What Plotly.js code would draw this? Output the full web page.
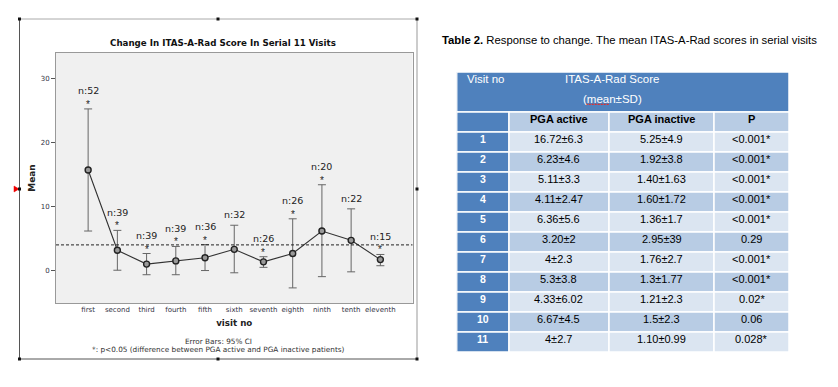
<!DOCTYPE html>
<html>
<head>
<meta charset="utf-8">
<script src="https://cdn.plot.ly/plotly-3.0.1.min.js"></script>
<style>html,body{margin:0;padding:0;background:#fff;}#chart{width:838px;height:387px;}</style>
</head>
<body>
<div id="chart"></div>
<script>
// ---- chart data ----
const visits = ['first','second','third','fourth','fifth','sixth','seventh','eighth','ninth','tenth','eleventh'];
const meanScore = [15.7, 3.2, 1.05, 1.55, 2.05, 3.35, 1.4, 2.7, 6.2, 4.75, 1.75];
const ciUpper   = [25.2, 6.3, 2.7, 3.8, 4.1, 7.1, 2.2, 8.1, 13.4, 9.65, 2.55];
const ciLower   = [6.2, 0.1, -0.6, -0.6, 0.05, -0.3, 0.55, -2.65, -0.9, -0.15, 0.8];
const nCounts   = [52, 39, 39, 39, 36, 32, 26, 26, 20, 22, 15];
const significant = [true, true, true, true, true, false, true, true, true, false, true];
const refLine = 4.04;
const yTicks = [0, 10, 20, 30];

// ---- table data ----
const visitNo    = ['1','2','3','4','5','6','7','8','9','10','11'];
const pgaActive  = ['16.72±6.3','6.23±4.6','5.11±3.3','4.11±2.47','6.36±5.6','3.20±2','4±2.3','5.3±3.8','4.33±6.02','6.67±4.5','4±2.7'];
const pgaInactive= ['5.25±4.9','1.92±3.8','1.40±1.63','1.60±1.72','1.36±1.7','2.95±39','1.76±2.7','1.3±1.77','1.21±2.3','1.5±2.3','1.10±0.99'];
const pValues    = ['<0.001*','<0.001*','<0.001*','<0.001*','<0.001*','0.29','<0.001*','<0.001*','0.02*','0.06','0.028*'];
const subHeader  = ['', 'PGA active', 'PGA inactive', 'P'];
const headerMain = ['Visit no', 'ITAS-A-Rad Score', '(mean±SD)'];
const colWidths  = [52.3, 100, 105, 75];

const W = 838, H = 387;
const px = x => x / W;
const py = y => 1 - y / H;
const AR = 'Liberation Sans, Arial, sans-serif';

const lineTrace = {
  type: 'scatter', mode: 'lines+markers',
  x: visits, y: meanScore,
  line: {color: '#333', width: 1.1},
  marker: {symbol: 'circle', size: 6, color: '#999', line: {width: 1.4, color: '#222'}},
  error_y: {
    type: 'data', symmetric: false,
    array: ciUpper.map((u, i) => u - meanScore[i]),
    arrayminus: ciLower.map((l, i) => meanScore[i] - l),
    color: '#666', thickness: 1, width: 4
  },
  xaxis: 'x', yaxis: 'y', hoverinfo: 'skip'
};

const annotations = [];
const shapes = [];

// ---- chart annotations ----
visits.forEach((v, i) => {
  if (significant[i]) {
    annotations.push({x: v, y: ciUpper[i], xref: 'x', yref: 'y', text: '*', showarrow: false,
      xanchor: 'center', yanchor: 'bottom', yshift: -3, font: {family: AR, size: 10, color: '#222'}});
    annotations.push({x: v, y: ciUpper[i], xref: 'x', yref: 'y', text: 'n:' + nCounts[i], showarrow: false,
      xanchor: 'center', yanchor: 'bottom', yshift: 10.5, font: {family: 'DejaVu Sans', size: 9.5, color: '#222'}});
  } else {
    annotations.push({x: v, y: ciUpper[i], xref: 'x', yref: 'y', text: 'n:' + nCounts[i], showarrow: false,
      xanchor: 'center', yanchor: 'bottom', yshift: 3, font: {family: 'DejaVu Sans', size: 9.5, color: '#222'}});
  }
});
annotations.push(
  {xref: 'paper', yref: 'paper', x: px(222.5), y: py(43), xanchor: 'center', yanchor: 'middle',
   text: '<b>Change In ITAS-A-Rad Score In Serial 11 Visits</b>',
   showarrow: false, font: {family: 'DejaVu Sans', size: 8.7, color: '#111'}},
  {xref: 'paper', yref: 'paper', x: px(218), y: py(341), xanchor: 'center', yanchor: 'middle',
   text: 'Error Bars: 95% CI', showarrow: false, font: {family: 'DejaVu Sans', size: 7.3, color: '#333'}},
  {xref: 'paper', yref: 'paper', x: px(218), y: py(349.5), xanchor: 'center', yanchor: 'middle',
   text: '*: p<0.05 (difference between PGA active and PGA inactive patients)',
   showarrow: false, font: {family: 'DejaVu Sans', size: 7.3, color: '#333'}},
  {xref: 'paper', yref: 'paper', x: px(440), y: py(40), xanchor: 'left', yanchor: 'middle',
   text: '<b>Table 2.</b> Response to change. The mean ITAS-A-Rad scores in serial visits',
   showarrow: false, font: {family: AR, size: 11.3, color: '#000'}}
);

// ---- chart shapes ----
shapes.push(
  {type: 'line', xref: 'x domain', yref: 'y', x0: 0, x1: 1, y0: refLine, y1: refLine,
   line: {color: '#222', width: 1, dash: '3px,2px'}},
  {type: 'line', xref: 'paper', yref: 'paper', x0: px(19.5), x1: px(19.5), y0: py(19), y1: py(359), line: {color: '#555', width: 1}},
  {type: 'line', xref: 'paper', yref: 'paper', x0: px(19.5), x1: px(417), y0: py(359), y1: py(359), line: {color: '#555', width: 1}},
  {type: 'line', xref: 'paper', yref: 'paper', x0: px(19.5), x1: px(417), y0: py(19), y1: py(19), line: {color: '#aaa', width: 1}},
  {type: 'line', xref: 'paper', yref: 'paper', x0: px(417), x1: px(417), y0: py(19), y1: py(359), line: {color: '#aaa', width: 1.2}},
  {type: 'path', xref: 'paper', yref: 'paper',
   path: `M ${px(14)} ${py(186)} L ${px(19)} ${py(189)} L ${px(14)} ${py(192)} Z`,
   fillcolor: '#e00', line: {color: '#e00', width: 0.5}}
);
[[19.5,19],[218,19],[417,19],[19.5,189],[417,189],[19.5,359],[218,359],[417,359]].forEach(([x, y]) => {
  shapes.push({type: 'rect', xref: 'paper', yref: 'paper', x0: px(x - 1.5), x1: px(x + 1.5), y0: py(y - 1.5), y1: py(y + 1.5),
    fillcolor: '#111', line: {width: 0}});
});

// ---- table (drawn on its own axes x2/y2: x in column units, y in row units) ----
const blue = '#4f81bd', darkRow = '#b8cce4', lightRow = '#dbe5f1';
const colEdges = [0];
colWidths.forEach(w => colEdges.push(colEdges[colEdges.length - 1] + w));
const totalW = colEdges[colEdges.length - 1];
const nRows = 2 + 1 + visitNo.length; // header (2 units) + subheader + data
const cellLine = {color: '#fff', width: 1.5};
shapes.push({type: 'rect', xref: 'x2', yref: 'y2', x0: 0, x1: totalW, y0: 0, y1: 2,
  fillcolor: blue, line: cellLine, layer: 'above'});
const bodyRows = [subHeader].concat(visitNo.map((v, i) => [v, pgaActive[i], pgaInactive[i], pValues[i]]));
bodyRows.forEach((row, r) => {
  const y0 = 2 + r, y1 = 3 + r;
  row.forEach((txt, c) => {
    let fill;
    if (c === 0) fill = blue;
    else if (r === 0) fill = darkRow;
    else fill = (r % 2 === 1) ? lightRow : darkRow;
    shapes.push({type: 'rect', xref: 'x2', yref: 'y2', x0: colEdges[c], x1: colEdges[c + 1], y0: y0, y1: y1,
      fillcolor: fill, line: cellLine, layer: 'above'});
    if (txt !== '') {
      const bold = (c === 0 || r === 0);
      annotations.push({xref: 'x2', yref: 'y2', x: (colEdges[c] + colEdges[c + 1]) / 2, y: y0 + 0.37,
        text: bold ? '<b>' + txt + '</b>' : txt, showarrow: false, xanchor: 'center', yanchor: 'middle',
        font: {family: AR, size: c === 0 ? 10.5 : 11, color: c === 0 ? '#fff' : '#000'}});
    }
  });
});
annotations.push(
  {xref: 'x2', yref: 'y2', x: 8.3, y: 0.37, text: headerMain[0], showarrow: false, xanchor: 'left', yanchor: 'middle',
   font: {family: AR, size: 11.5, color: '#fff'}},
  {xref: 'x2', yref: 'y2', x: 155.3, y: 0.37, text: headerMain[1], showarrow: false, xanchor: 'center', yanchor: 'middle',
   font: {family: AR, size: 11.5, color: '#fff'}},
  {xref: 'x2', yref: 'y2', x: 155.3, y: 1.37, text: headerMain[2], showarrow: false, xanchor: 'center', yanchor: 'middle',
   font: {family: AR, size: 11.5, color: '#fff'}}
);
// spelling underline under "mean"
shapes.push({type: 'line', xref: 'x2', yref: 'y2', x0: 129, x1: 153, y0: 1.62, y1: 1.62,
  line: {color: '#e03030', width: 1.3, dash: '2px,1px'}, layer: 'above'});

const layout = {
  width: W, height: H,
  margin: {l: 0, r: 0, t: 0, b: 0},
  paper_bgcolor: '#fff',
  plot_bgcolor: '#f0f0f0',
  showlegend: false,
  font: {family: 'DejaVu Sans', color: '#333'},
  xaxis: {
    domain: [px(56), px(412.5)],
    type: 'category', range: [-1.1, 11.1],
    showgrid: false, zeroline: false,
    showline: true, mirror: true, linecolor: '#999', linewidth: 1,
    ticks: '', tickfont: {size: 7, color: '#334'},
    title: {text: '<b>visit no</b>', font: {size: 8.7, color: '#222'}, standoff: 6}
  },
  yaxis: {
    domain: [py(303), py(53)],
    range: [-5.0, 33.9],
    tickvals: yTicks,
    showgrid: false, zeroline: false,
    showline: true, mirror: true, linecolor: '#999', linewidth: 1,
    ticks: 'outside', ticklen: 4, tickcolor: '#555',
    tickfont: {size: 7, color: '#334'},
    title: {text: '<b>Mean</b>', font: {size: 9, color: '#222'}, standoff: 3}
  },
  xaxis2: {domain: [px(456.7), px(789)], range: [0, totalW], visible: false, fixedrange: true, anchor: 'y2'},
  yaxis2: {domain: [py(352), py(72)], range: [nRows, 0], visible: false, fixedrange: true, anchor: 'x2'},
  annotations: annotations,
  shapes: shapes
};

const tableAxisTrace = {type: 'scatter', mode: 'markers', x: [0, totalW], y: [0, nRows],
  marker: {opacity: 0}, xaxis: 'x2', yaxis: 'y2', hoverinfo: 'skip'};

Plotly.newPlot('chart', [lineTrace, tableAxisTrace], layout, {displayModeBar: false, staticPlot: true});
</script>
</body>
</html>
